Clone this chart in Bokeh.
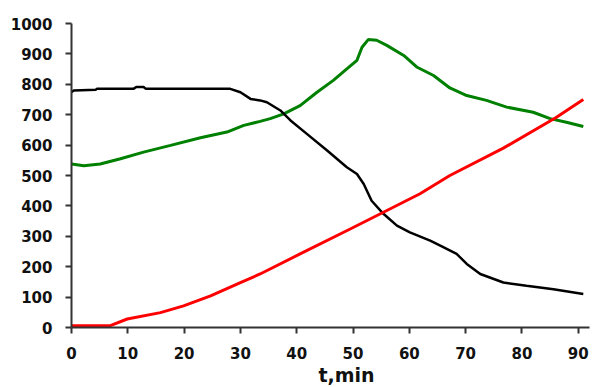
from bokeh.plotting import figure
from bokeh.models import Range1d, FixedTicker, Title
from bokeh.embed import file_html
from bokeh.resources import INLINE

# Black curve
black_t = [0, 0.4, 4.3, 4.5, 11.0, 11.5, 12.8, 13.2, 28.2, 30.0, 31.8, 33.5, 34.7, 37.1, 38.9,
           41.8, 45.4, 48.9, 50.7, 51.9, 53.3, 55.4, 57.8, 60.1, 63.7, 65.5, 68.4, 70.2, 72.6,
           76.7, 80.8, 85.6, 90.9]
black_v = [774, 780, 782, 785, 785, 791, 791, 785, 785, 774, 752, 747, 741, 714, 681,
           637, 582, 527, 505, 472, 417, 374, 335, 313, 286, 269, 242, 209, 176,
           148, 137, 126, 110]

# Green curve
green_t = [0, 2.2, 5.1, 8.7, 12.8, 17.6, 22.9, 27.6, 30.6, 33.5, 35.3, 37.7, 40.6, 43.6, 46.5,
           48.9, 50.7, 51.6, 52.7, 54.2, 56.0, 59.0, 61.3, 64.3, 67.2, 70.2, 73.7, 77.3,
           82.0, 85.0, 87.9, 90.9]
green_v = [538, 532, 538, 555, 577, 599, 624, 643, 665, 678, 687, 703, 730, 774, 813,
           851, 879, 922, 947, 945, 928, 895, 857, 829, 788, 763, 747, 725,
           708, 687, 675, 661]

# Red curve
red_t = [0, 6.9, 9.9, 15.8, 19.9, 24.7, 30.0, 33.5, 40.6, 49.5, 55.4, 61.9, 67.2, 76.7, 86.0, 90.9]
red_v = [6, 6, 28, 49, 71, 104, 148, 176, 242, 324, 379, 440, 500, 590, 690, 750]

x_ticks = [0, 10, 20, 30, 40, 50, 60, 70, 80, 90]
y_ticks = [0, 100, 200, 300, 400, 500, 600, 700, 800, 900, 1000]
x_label = "t,min"

p = figure(width=594, height=387, output_backend="svg", toolbar_location=None,
           x_range=Range1d(0, 92), y_range=Range1d(0, 1000),
           min_border_left=71, min_border_right=5, min_border_top=23, min_border_bottom=60)
p.outline_line_color = None
p.xgrid.grid_line_color = None
p.ygrid.grid_line_color = None
p.background_fill_color = "white"
p.border_fill_color = "white"

p.line(green_t, green_v, line_color="#008000", line_width=3)
p.line(black_t, black_v, line_color="#000000", line_width=2.5)
p.line(red_t, red_v, line_color="#ff0000", line_width=3)

for ax in (p.xaxis[0], p.yaxis[0]):
    ax.axis_line_color = "#333333"
    ax.axis_line_width = 2
    ax.major_tick_line_color = "#333333"
    ax.major_tick_line_width = 2
    ax.major_tick_out = 6
    ax.major_tick_in = 0
    ax.minor_tick_line_color = None
    ax.major_label_text_font = "DejaVu Sans"
    ax.major_label_text_font_style = "bold"
    ax.major_label_text_font_size = "15px"
    ax.major_label_text_color = "#111111"

p.xaxis.ticker = FixedTicker(ticks=x_ticks)
p.yaxis.ticker = FixedTicker(ticks=y_ticks)
p.xaxis.major_label_standoff = 13
p.yaxis.major_label_standoff = 13

t = Title(text=x_label, align="left", offset=247, standoff=0,
          text_font="DejaVu Sans", text_font_style="bold", text_font_size="19px",
          text_color="#111111")
p.add_layout(t, "below")

open("out.html", "w").write(file_html(p, INLINE))
